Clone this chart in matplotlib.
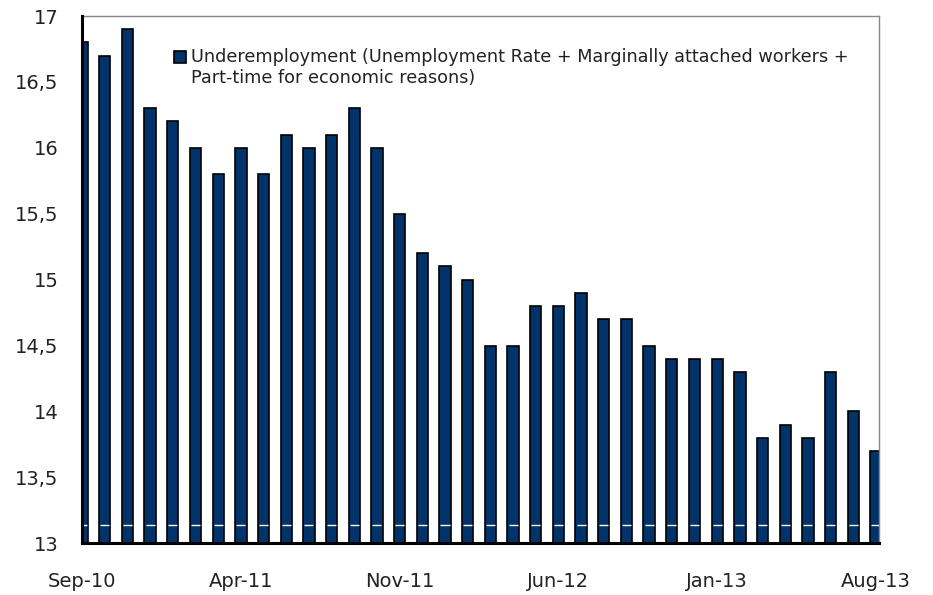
import numpy as np
import matplotlib
matplotlib.use('Agg')
import matplotlib.pyplot as plt
from matplotlib.patches import Rectangle
from matplotlib.ticker import FuncFormatter

# monthly data, Sep-10 .. Aug-13
months = ['Sep-10', 'Oct-10', 'Nov-10', 'Dec-10', 'Jan-11', 'Feb-11', 'Mar-11', 'Apr-11',
          'May-11', 'Jun-11', 'Jul-11', 'Aug-11', 'Sep-11', 'Oct-11', 'Nov-11', 'Dec-11',
          'Jan-12', 'Feb-12', 'Mar-12', 'Apr-12', 'May-12', 'Jun-12', 'Jul-12', 'Aug-12',
          'Sep-12', 'Oct-12', 'Nov-12', 'Dec-12', 'Jan-13', 'Feb-13', 'Mar-13', 'Apr-13',
          'May-13', 'Jun-13', 'Jul-13', 'Aug-13']
underemployment = [16.8, 16.7, 16.9, 16.3, 16.2, 16.0, 15.8, 16.0, 15.8, 16.1, 16.0, 16.1,
                   16.3, 16.0, 15.5, 15.2, 15.1, 15.0, 14.5, 14.5, 14.8, 14.8, 14.9, 14.7,
                   14.7, 14.5, 14.4, 14.4, 14.4, 14.3, 13.8, 13.9, 13.8, 14.3, 14.0, 13.7]
series_label = ('Underemployment (Unemployment Rate + Marginally attached workers +\n'
                'Part-time for economic reasons)')
yticks = [13, 13.5, 14, 14.5, 15, 15.5, 16, 16.5, 17]
bar_color = '#00336a'

plt.rcParams['font.family'] = ['DejaVu Sans']

fig = plt.figure(figsize=(9.33, 5.95), dpi=100)
ax = fig.add_axes([0.088, 0.087, 0.854, 0.886])

x = np.arange(len(months))
ax.bar(x, underemployment, width=0.5, color=bar_color, edgecolor='black',
       linewidth=1.2, zorder=2)

# axis break mark: thin white stroke across every bar near the bottom
ax.hlines(np.full(len(x), 13.135), x - 0.2, x + 0.2, color='white', linewidth=1, zorder=3)

ax.set_xlim(0, 35.13)
ax.set_ylim(13, 17)
ax.set_yticks(yticks)
ax.yaxis.set_major_formatter(FuncFormatter(lambda v, p: ('%g' % v).replace('.', ',')))
tick_idx = list(range(0, len(months), 7))
ax.set_xticks(tick_idx)
ax.set_xticklabels([months[i] for i in tick_idx])
ax.tick_params(axis='both', length=0, labelsize=14, colors='#222222')
ax.tick_params(axis='x', pad=21)
ax.tick_params(axis='y', pad=17)

for s in ['left', 'bottom']:
    ax.spines[s].set_linewidth(2.2)
    ax.spines[s].set_color('black')
for s in ['top', 'right']:
    ax.spines[s].set_linewidth(1)
    ax.spines[s].set_color('#888888')
ax.spines['left'].set_zorder(5)

# legend: swatch next to the first line of a two-line label
ax.add_patch(Rectangle((0.1154, 0.9108), 0.0151, 0.0228, transform=ax.transAxes,
                       facecolor=bar_color, edgecolor='black', linewidth=1.2,
                       clip_on=False, zorder=6))
ax.text(0.1368, 0.939, series_label, transform=ax.transAxes, ha='left', va='top',
        fontsize=12.7, linespacing=1.2, color='#222222', zorder=6)

fig.savefig('out.png', dpi=100)
